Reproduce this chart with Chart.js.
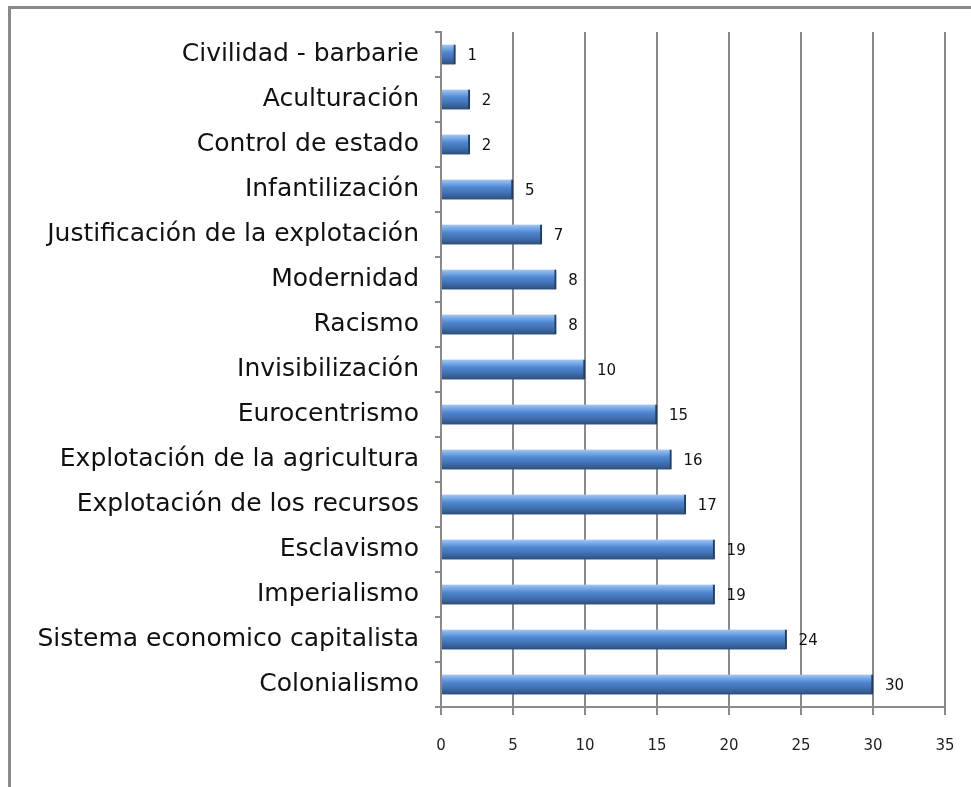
<!DOCTYPE html>
<html>
<head>
<meta charset="utf-8">
<script src="https://cdn.jsdelivr.net/npm/chart.js@4"></script>
<style>
  html, body { margin: 0; padding: 0; background: #ffffff; }
  #wrap { position: relative; width: 971px; height: 787px; overflow: hidden; }
  #frame { position: absolute; left: 8px; top: 6px; width: 1000px; height: 900px;
           border-left: 3px solid #8a8a8a; border-top: 3px solid #8a8a8a; box-sizing: border-box; }
  canvas { position: absolute; left: 0; top: 0; }
</style>
</head>
<body>
<div id="wrap">
  <div id="frame"></div>
  <canvas id="c" width="971" height="787"></canvas>
</div>
<script>
const categories = [
  "Civilidad - barbarie",
  "Aculturación",
  "Control de estado",
  "Infantilización",
  "Justificación de la explotación",
  "Modernidad",
  "Racismo",
  "Invisibilización",
  "Eurocentrismo",
  "Explotación de la agricultura",
  "Explotación de los recursos",
  "Esclavismo",
  "Imperialismo",
  "Sistema economico capitalista",
  "Colonialismo"
];
const values = [1, 2, 2, 5, 7, 8, 8, 10, 15, 16, 17, 19, 19, 24, 30];
const xTicks = [0, 5, 10, 15, 20, 25, 30, 35];

const GRID = '#8a8a8a';

function barGradient(ctx) {
  const chart = ctx.chart;
  const ys = chart.scales && chart.scales.y;
  if (!ys || ctx.dataIndex === undefined || !chart.chartArea) return '#4f81bd';
  const c = ys.getPixelForValue(ctx.dataIndex);
  const h = 10;
  const g = chart.ctx.createLinearGradient(0, c - h, 0, c + h);
  g.addColorStop(0.00, '#a4c9f3');
  g.addColorStop(0.18, '#79abe8');
  g.addColorStop(0.40, '#4f86d0');
  g.addColorStop(0.65, '#4273b6');
  g.addColorStop(0.85, '#375f96');
  g.addColorStop(1.00, '#2c4c7a');
  return g;
}

const shadowPlugin = {
  id: 'shadow',
  beforeDatasetsDraw(chart) {
    const c = chart.ctx;
    c.save();
    c.shadowColor = 'rgba(60,80,110,0.28)';
    c.shadowOffsetY = 3;
    c.shadowOffsetX = 1;
    c.shadowBlur = 3;
  },
  afterDatasetsDraw(chart) {
    chart.ctx.restore();
  }
};

const valueLabels = {
  id: 'valueLabels',
  afterDatasetsDraw(chart) {
    const c = chart.ctx;
    const meta = chart.getDatasetMeta(0);
    c.save();
    c.font = '15px "DejaVu Sans"';
    c.fillStyle = '#111';
    c.textAlign = 'left';
    c.textBaseline = 'middle';
    meta.data.forEach((bar, i) => {
      c.fillText(String(values[i]), bar.x + 12, bar.y + 2);
    });
    c.restore();
  }
};

new Chart(document.getElementById('c'), {
  type: 'bar',
  data: {
    labels: categories,
    datasets: [{
      data: values,
      backgroundColor: barGradient,
      borderColor: '#1f3a60',
      borderWidth: { top: 0, bottom: 0, left: 0, right: 2 },
      borderSkipped: 'start',
      barThickness: 20
    }]
  },
  options: {
    indexAxis: 'y',
    responsive: false,
    animation: false,
    devicePixelRatio: 1,
    layout: { padding: { top: 32, right: 26, bottom: 0, left: 0 } },
    plugins: { legend: { display: false }, tooltip: { enabled: false } },
    scales: {
      x: {
        min: 0,
        max: 35,
        afterBuildTicks(scale) { scale.ticks = xTicks.map(v => ({ value: v })); },
        afterFit(scale) { scale.height = 80; scale.paddingLeft = 0; scale.paddingRight = 0; },
        grid: { color: GRID, lineWidth: 2, tickLength: 8, drawTicks: true },
        border: { color: GRID, width: 2 },
        ticks: { color: '#222', padding: 22, font: { family: 'DejaVu Sans', size: 15 } }
      },
      y: {
        afterFit(scale) { scale.width = 441; scale.paddingTop = 0; scale.paddingBottom = 0; },
        grid: { color: GRID, lineWidth: 2, drawOnChartArea: false, drawTicks: true, tickLength: 6, offset: true },
        border: { color: GRID, width: 2 },
        ticks: { color: '#111', padding: 16, autoSkip: false, font: { family: 'DejaVu Sans', size: 25 } }
      }
    }
  },
  plugins: [shadowPlugin, valueLabels]
});
</script>
</body>
</html>
